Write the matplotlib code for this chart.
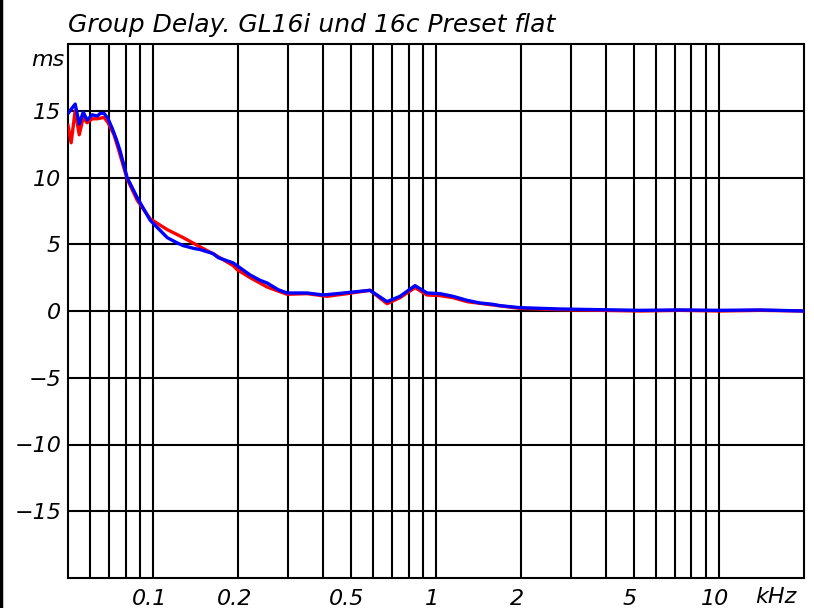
import matplotlib
matplotlib.use('Agg')
import matplotlib.pyplot as plt
import matplotlib.transforms as mtransforms
from matplotlib.lines import Line2D

# Group delay in ms over frequency in kHz
freq_blue = [0.050, 0.053, 0.0548, 0.0566, 0.0584, 0.0609, 0.0634, 0.065, 0.0671, 0.0693,
             0.0716, 0.074, 0.0764, 0.0809, 0.0878, 0.0976, 0.1121, 0.1216, 0.1276, 0.1385,
             0.1466, 0.163, 0.1697, 0.1918, 0.2202, 0.2388, 0.2528, 0.2765, 0.2975, 0.35,
             0.3988, 0.4469, 0.4968, 0.5845, 0.6712, 0.7462, 0.8431, 0.9295, 1.033, 1.148,
             1.287, 1.43, 1.59, 1.683, 1.981, 2.743, 3.797, 5.258, 7.28, 10.08, 13.96, 20.0]
delay_blue = [14.8, 15.5, 14.0, 14.9, 14.3, 14.7, 14.6, 14.8, 14.8, 14.4,
              13.7, 12.9, 12.0, 10.0, 8.5, 6.8, 5.5, 5.1, 4.9, 4.7,
              4.6, 4.3, 4.0, 3.6, 2.7, 2.3, 2.1, 1.6, 1.35, 1.35,
              1.2, 1.3, 1.4, 1.55, 0.7, 1.1, 1.9, 1.35, 1.3, 1.1,
              0.8, 0.6, 0.5, 0.4, 0.25, 0.15, 0.1, 0.05, 0.08, 0.05, 0.08, 0.0]

freq_red = [0.050, 0.0513, 0.053, 0.0548, 0.0566, 0.0584, 0.0609, 0.0634, 0.0671, 0.0693,
            0.0727, 0.0752, 0.0809, 0.0878, 0.0976, 0.1121, 0.1276, 0.1466, 0.1657, 0.1918,
            0.198, 0.2202, 0.2528, 0.2975, 0.35, 0.412, 0.4848, 0.5845, 0.6712, 0.7462,
            0.8431, 0.9295, 1.033, 1.148, 1.287, 1.59, 1.981, 2.743, 3.797, 5.258,
            7.28, 10.08, 13.96, 20.0]
delay_red = [13.9, 12.6, 15.0, 13.2, 14.5, 14.1, 14.4, 14.4, 14.5, 14.1,
             13.2, 12.2, 9.9, 8.3, 6.9, 6.1, 5.5, 4.8, 4.2, 3.4,
             3.1, 2.5, 1.8, 1.25, 1.3, 1.1, 1.3, 1.55, 0.55, 1.0,
             1.75, 1.2, 1.15, 1.0, 0.7, 0.45, 0.2, 0.1, 0.05, 0.0,
             0.05, 0.0, 0.05, 0.0]

x_major = [0.1, 0.2, 0.5, 1, 2, 5, 10]
x_major_labels = ['0.1', '0.2', '0.5', '1', '2', '5', '10']
x_minor = [0.06, 0.07, 0.08, 0.09, 0.3, 0.4, 0.6, 0.7, 0.8, 0.9, 3, 4, 6, 7, 8, 9]
y_ticks = [-15, -10, -5, 0, 5, 10, 15]
y_labels = ['\u221215', '\u221210', '\u22125', '0', '5', '10', '15']

plt.rcParams['font.family'] = ['DejaVu Sans']
plt.rcParams['font.style'] = 'oblique'

fig = plt.figure(figsize=(8.14, 6.08), dpi=100)
ax = fig.add_axes([68 / 814, 30 / 608, 736 / 814, 534 / 608])

ax.plot(freq_red, delay_red, color='#ff0000', lw=2.4, zorder=3)
ax.plot(freq_blue, delay_blue, color='#0000ff', lw=2.4, zorder=4)

ax.set_xscale('log')
ax.set_xlim(0.05, 20)
ax.set_ylim(-20, 20)

ax.set_xticks(x_major)
ax.set_xticklabels(x_major_labels)
ax.set_xticks(x_minor, minor=True)
ax.set_xticklabels([], minor=True)
ax.set_yticks(y_ticks)
ax.set_yticklabels(y_labels)

ax.tick_params(which='both', length=0, labelsize=16, colors='black')
ax.tick_params(axis='x', pad=8)
ax.tick_params(axis='y', pad=5)
ax.grid(which='both', color='black', lw=1.5)
ax.set_axisbelow(True)
for sp in ax.spines.values():
    sp.set_linewidth(1.5)

# italic labels sit a little left of their grid line
shift = mtransforms.ScaledTranslation(-4 / 100, 0, fig.dpi_scale_trans)
for lbl in ax.get_xticklabels():
    lbl.set_transform(lbl.get_transform() + shift)

ax.text(0.962, -0.035, 'kHz', transform=ax.transAxes, fontsize=16,
        ha='center', va='center')
ax.text(-0.005, 0.97, 'ms', transform=ax.transAxes, fontsize=16,
        ha='right', va='center')
fig.text(68 / 814, 1 - 25 / 608, 'Group Delay. GL16i und 16c Preset flat',
         fontsize=18, ha='left', va='center')

fig.add_artist(Line2D([0.0015, 0.0015], [0, 1], color='black', lw=2.5,
                      transform=fig.transFigure))

fig.savefig('out.png', dpi=100)
